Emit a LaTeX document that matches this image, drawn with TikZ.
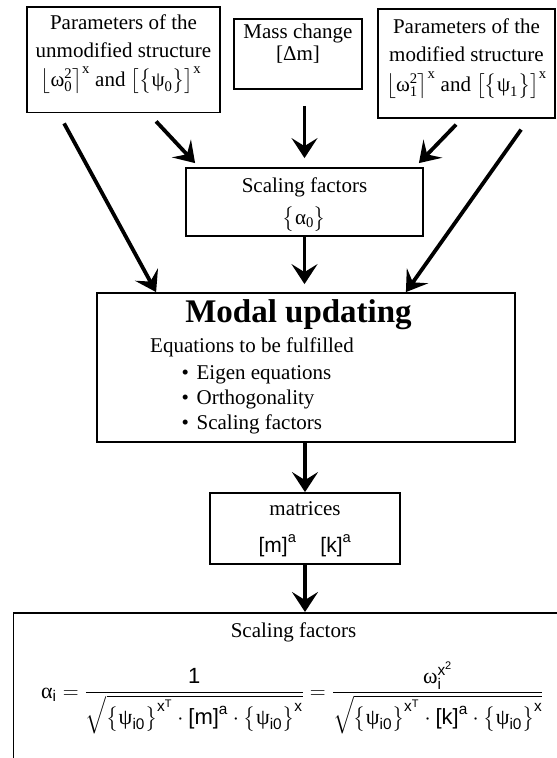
\RequirePackage{fix-cm}
\documentclass[tikz,border=0pt]{standalone}
\usepackage{amsmath}
\usepackage{fontspec}
\setmainfont{Liberation Serif}
\newfontfamily\hel{Liberation Sans}
\newfontfamily\grk{Liberation Serif}
\usetikzlibrary{arrows.meta,calc}
\begin{document}
\begin{tikzpicture}[x=1pt,y=-1pt,
  box/.style={draw, line width=1.8pt, inner sep=0pt},
  arr/.style={line width=3.8pt, -{Stealth[length=20pt,width=26pt,inset=8pt]}},
  txt/.style={font=\fontsize{21}{28}\selectfont, inner sep=0pt, anchor=base},
  txtl/.style={txt, anchor=base west},
  big/.style={font=\fontsize{33}{36}\selectfont\bfseries, inner sep=0pt, anchor=base},
  frm/.style={font=\fontsize{22}{28}\selectfont\hel, inner sep=0pt, anchor=base west}]
\useasboundingbox (0,0) rectangle (557,758);
\begin{scope}
\clip (0,0) rectangle (557,758);
% top boxes
\node[box, minimum width=193pt, minimum height=105.5pt] (p0) at (123.5,59.75) {};
\node[txt] (p0a) at (123.5,29) {Parameters of the};
\node[txt] (p0b) at (123.5,57) {unmodified structure};
\node[txt] (p0c) at (121,86) {$\bigl\lfloor\text{ω}_{\text{0}}^{\text{2}}\bigr\rceil^{\text{x}}$ and $\bigl[\bigl\{\text{ψ}_{\text{0}}\bigr\}\bigr]^{\text{x}}$};

\node[box, minimum width=128pt, minimum height=70pt] (mass) at (298,54) {};
\node[txt] (ma) at (298,38) {Mass change};
\node[txt] (mb) at (298,60) {[Δm]};

\node[box, minimum width=177pt, minimum height=108.7pt] (p1) at (466.5,63.35) {};
\node[txt] (p1a) at (466.5,33) {Parameters of the};
\node[txt] (p1b) at (466.5,61) {modified structure};
\node[txt] (p1c) at (466.5,91) {$\bigl\lfloor\text{ω}_{\text{1}}^{\text{2}}\bigr\rceil^{\text{x}}$ and $\bigl[\bigl\{\text{ψ}_{\text{1}}\bigr\}\bigr]^{\text{x}}$};

% scaling factors
\node[box, minimum width=237pt, minimum height=68pt] (sc) at (304.5,202) {};
\node[txt] (sca) at (304.5,192) {Scaling factors};
\node[txt] (scb) at (304.5,224) {$\bigl\{\text{α}_{\text{0}}\bigr\}$};

% modal updating
\node[box, minimum width=418pt, minimum height=149pt] (modal) at (306,367.5) {};
\node[big] (mt) at (298.5,322) {Modal updating};
\node[txtl] (eq) at (150,352.5) {Equations to be fulfilled};
\node[txtl] (b1) at (181.5,379) {•\hspace{7.6pt}Eigen equations};
\node[txtl] (b2) at (181.5,404) {•\hspace{7.6pt}Orthogonality};
\node[txtl] (b3) at (181.5,429) {•\hspace{7.6pt}Scaling factors};

% matrices
\node[box, minimum width=190pt, minimum height=71pt] (mat) at (305,528.5) {};
\node[txt] (mata) at (305,515) {matrices};
\node[txt, font=\fontsize{21}{28}\selectfont\hel] (matb) at (305,552) {$\text{[m]}^{\text{a}}$\hspace{24pt}$\text{[k]}^{\text{a}}$};

% bottom
\node[box, minimum width=600pt, minimum height=200pt, anchor=north west] (bot) at (12.5,612) {};
\node[txt] (bota) at (293.5,637) {Scaling factors};
\node[frm] (form) at (41,698) {$\text{\grk α}_{\text{i}}
 = \dfrac{\text{1}}{\sqrt{\bigl\{\text{\grk ψ}_{\text{i0}}\bigr\}^{\text{x}^{\text{T}}}\cdot\text{[m]}^{\text{a}}\cdot\bigl\{\text{\grk ψ}_{\text{i0}}\bigr\}^{\text{x}}}}
 = \dfrac{\text{\grk ω}_{\text{i}}^{\text{x}^{\text{2}}}}{\sqrt{\bigl\{\text{\grk ψ}_{\text{i0}}\bigr\}^{\text{x}^{\text{T}}}\cdot\text{[k]}^{\text{a}}\cdot\bigl\{\text{\grk ψ}_{\text{i0}}\bigr\}^{\text{x}}}}$};

% arrows
\draw[arr] ($(p0.south west)+(38,10)$) -- ($(modal.north west)+(60,0)$);
\draw[arr] ($(p0.south west)+(130,8)$) -- ($(sc.north west)+(10,-4)$);
\draw[arr, shorten >=9pt] ($(mass.south -| sc.north)+(0,16)$) -- (sc.north);
\draw[arr] ($(p1.south west)+(79,6)$) -- ($(sc.north east)+(-5,-4)$);
\draw[arr] ($(p1.south west)+(144,11)$) -- ($(modal.north east)+(-110,0)$);
\draw[arr, shorten >=8pt] (sc.south) -- (sc.south |- modal.north);
\draw[arr] (modal.south -| mat.north) -- (mat.north);
\draw[arr] (mat.south) -- (mat.south |- bot.north);
\end{scope}
\end{tikzpicture}
\end{document}
